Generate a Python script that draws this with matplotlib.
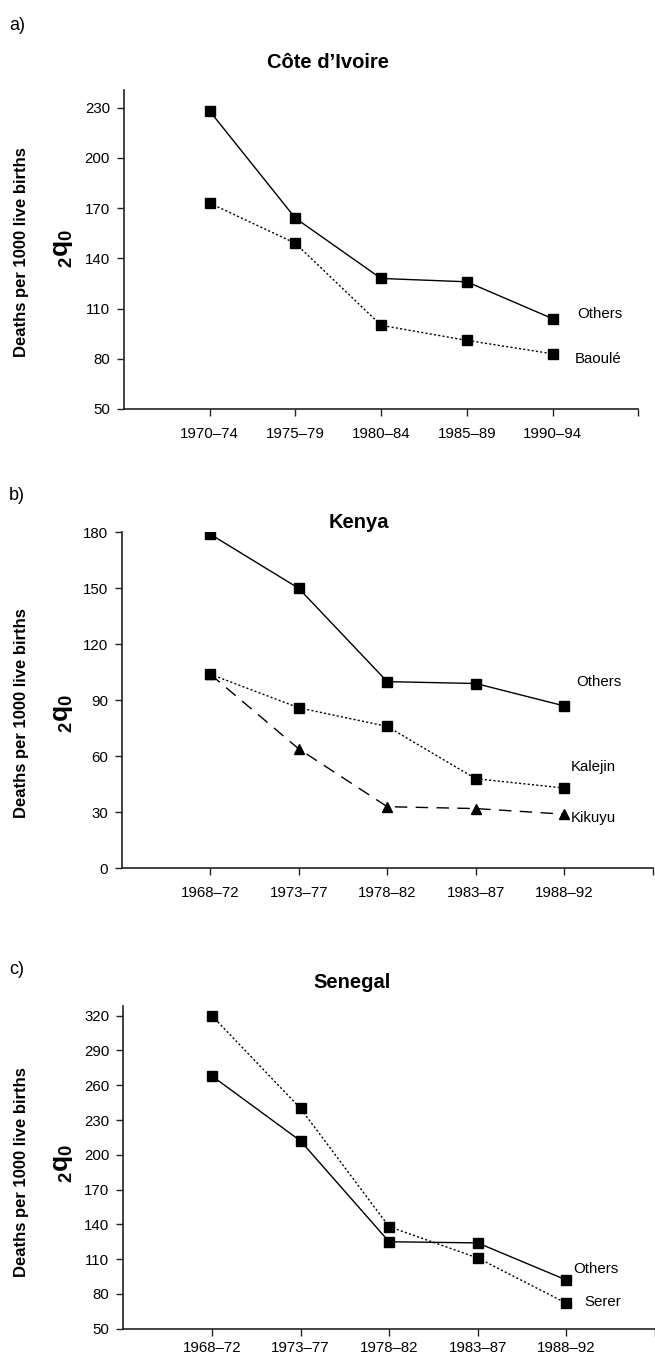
import matplotlib
matplotlib.use('Agg')
import matplotlib.pyplot as plt
from matplotlib import font_manager as fm

# pick a narrow sans if one is installed, else plain Liberation Sans
FONT = 'Liberation Sans'
try:
    fm.findfont('Liberation Sans Narrow', fallback_to_default=False)
    FONT = 'Liberation Sans Narrow'
except Exception:
    pass
NARROW = FONT == 'Liberation Sans Narrow'

plt.rcParams.update({
    'font.family': [FONT, 'DejaVu Sans'],
    'mathtext.fontset': 'custom',
    'mathtext.rm': FONT,
    'mathtext.bf': FONT + ':bold',
    'axes.linewidth': 1.2,
    'axes.edgecolor': '#222222',
})

# ─── data ─────────────────────────────────────────────────────────────────────
periods_a = ['1970–74', '1975–79', '1980–84', '1985–89', '1990–94']
civ_others = [228, 164, 128, 126, 104]
civ_baoule = [173, 149, 100, 91, 83]

periods_bc = ['1968–72', '1973–77', '1978–82', '1983–87', '1988–92']
ken_others = [179, 150, 100, 99, 87]
ken_kalejin = [104, 86, 76, 48, 43]
ken_kikuyu = [104, 64, 33, 32, 29]

sen_others = [268, 212, 125, 124, 92]
sen_serer = [320, 240, 138, 111, 72]

yticks_a = [50, 80, 110, 140, 170, 200, 230]
yticks_b = [0, 30, 60, 90, 120, 150, 180]
yticks_c = [50, 80, 110, 140, 170, 200, 230, 260, 290, 320]

W, H = 655, 1358
fig = plt.figure(figsize=(W / 100, H / 100), dpi=100)

TICK_FS = 12.5 if NARROW else 10.8
LAB_FS = 12.5 if NARROW else 10.8
TITLE_FS = 16 if NARROW else 14.5


def px_axes(left, right, top, bottom):
    return fig.add_axes([left / W, 1 - bottom / H, (right - left) / W, (bottom - top) / H])


SOLID = dict(color='black', lw=1.0, ls='-', marker='s', ms=6.5, mfc='black', mec='black')
DOT = dict(color='black', lw=1.0, ls=(0, (1.5, 1.6)), marker='s', ms=6.5, mfc='black', mec='black')
DASH = dict(color='black', lw=1.0, ls=(0, (9, 6)), marker='^', ms=7, mfc='black', mec='black')


def style(ax, labels, yticks, ylim, xpad=8):
    x = list(range(1, len(labels) + 1))
    ax.set_xlim(0, 6)
    ax.set_ylim(*ylim)
    ax.set_xticks(x + [6])
    ax.set_xticklabels(labels + [''])
    ax.set_yticks(yticks)
    for s in ['top', 'right']:
        ax.spines[s].set_visible(False)
    ax.tick_params(axis='both', direction='out', length=5, width=1.0,
                   color='#222222', labelsize=TICK_FS)
    ax.tick_params(axis='x', pad=xpad)
    ax.tick_params(axis='y', pad=5)
    return x


def label_end(ax, x, y, text, dx, dy):
    ax.annotate(text, xy=(x[-1], y[-1]), xytext=(dx, dy), textcoords='offset pixels',
                ha='left', va='center', fontsize=LAB_FS)


def side_labels(yc, yq):
    fig.text(22 / W, 1 - yc / H, 'Deaths per 1000 live births', rotation=90,
             ha='center', va='center', fontsize=12, fontweight='bold')
    fig.text(63 / W, 1 - yq / H, r'$_{\mathbf{2}}\mathbf{q}_{\mathbf{0}}$', rotation=90,
             ha='center', va='center', fontsize=19)


# ─── a) Côte d'Ivoire ─────────────────────────────────────────────────────────
ax = px_axes(124, 124 + 6 * 85.7, 90.5, 409)
x = style(ax, periods_a, yticks_a, (50, 240.3))
ax.plot(x, civ_others, **SOLID)
ax.plot(x, civ_baoule, **DOT)
label_end(ax, x, civ_others, 'Others', 25, 5)
label_end(ax, x, civ_baoule, 'Baoulé', 22, -5)
fig.text(9 / W, 1 - 25 / H, 'a)', ha='left', va='center', fontsize=13)
fig.text(328 / W, 1 - 62 / H, 'Côte d’Ivoire', ha='center', va='center',
         fontsize=TITLE_FS, fontweight='bold')
side_labels(252, 248)

# ─── b) Kenya ─────────────────────────────────────────────────────────────────
ax = px_axes(121.7, 121.7 + 6 * 88.5, 532.3, 868.3)
x = style(ax, periods_bc, yticks_b, (0, 180))
ax.plot(x, ken_others, **SOLID)
ax.plot(x, ken_kalejin, **DOT)
ax.plot(x, ken_kikuyu, **DASH)
label_end(ax, x, ken_others, 'Others', 12, 24)
label_end(ax, x, ken_kalejin, 'Kalejin', 7, 21)
label_end(ax, x, ken_kikuyu, 'Kikuyu', 7, -4)
fig.text(9 / W, 1 - 495 / H, 'b)', ha='left', va='center', fontsize=13)
fig.text(359 / W, 1 - 522 / H, 'Kenya', ha='center', va='center',
         fontsize=TITLE_FS, fontweight='bold')
side_labels(713, 713)

# ─── c) Senegal ───────────────────────────────────────────────────────────────
ax = px_axes(123.3, 123.3 + 6 * 88.6, 1005.7, 1328.7)
x = style(ax, periods_bc, yticks_c, (50, 328.6), xpad=4)
ax.plot(x, sen_others, **SOLID)
ax.plot(x, sen_serer, **DOT)
label_end(ax, x, sen_others, 'Others', 7, 11)
label_end(ax, x, sen_serer, 'Serer', 18, 1)
fig.text(9 / W, 1 - 970 / H, 'c)', ha='left', va='center', fontsize=13)
fig.text(352 / W, 1 - 982 / H, 'Senegal', ha='center', va='center',
         fontsize=TITLE_FS, fontweight='bold')
side_labels(1172, 1163)

fig.savefig('out.png', dpi=100)
